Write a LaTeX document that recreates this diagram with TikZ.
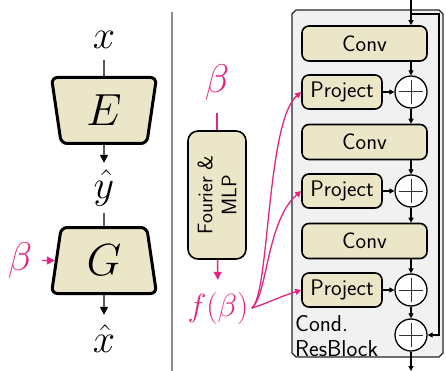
\RequirePackage{fix-cm}
\documentclass[tikz,border=0pt]{standalone}
\usetikzlibrary{arrows.meta,shapes.geometric}
\definecolor{beige}{RGB}{236,230,201}
\definecolor{pinkc}{RGB}{225,37,128}
\definecolor{panelgray}{RGB}{241,241,241}
\definecolor{sepgray}{RGB}{140,140,140}
\begin{document}
\begin{tikzpicture}[x=1pt,y=-1pt,
  mathlbl/.style={font=\fontsize{40}{48}\selectfont, inner sep=0pt},
  sanstxt/.style={font=\sffamily\fontsize{22.5}{25}\selectfont},
  trap/.style={trapezium, trapezium stretches body, draw, line width=3pt, fill=beige,
     rounded corners=6pt, minimum height=66pt, minimum width=105pt,
     trapezium angle=72.5, inner sep=0pt, font=\fontsize{45}{50}\selectfont},
  blk/.style={draw, line width=1.6pt, fill=beige, rounded corners=7pt, sanstxt, inner sep=0pt},
  convblk/.style={blk, minimum width=125pt, minimum height=35pt},
  projblk/.style={blk, minimum width=80pt, minimum height=34pt},
  plusnode/.style={circle, draw, line width=1.3pt, fill=white, minimum size=32pt, inner sep=0pt,
     path picture={\draw[line width=1pt, black!80]
        ([xshift=-12pt]path picture bounding box.center) -- ([xshift=12pt]path picture bounding box.center)
        ([yshift=-12pt]path picture bounding box.center) -- ([yshift=12pt]path picture bounding box.center);}},
  arr/.style={line width=1.4pt, -{Triangle[length=8pt,width=8pt]}},
  sarr/.style={line width=1.2pt, -{Triangle[length=5pt,width=5pt]}},
  parr/.style={line width=1.3pt, pinkc, -{Triangle[length=6pt,width=6pt]}},
]
\useasboundingbox (0,0) rectangle (446,371);
\fill[white] (0,0) rectangle (446,371);

% ---------- left: E / G ----------
\node[mathlbl, minimum height=40pt] (xl) at (104,40) {$x$};
\node[trap, shape border rotate=180] (E) at (104,110.5) {$E$};
\node[mathlbl, minimum height=50pt] (yl) at (104,188) {$\hat{y}$};
\node[trap] (G) at (104,260.5) {$G$};
\node[mathlbl, minimum height=48pt] (xh) at (104,339) {$\hat{x}$};
\node[mathlbl, minimum width=44pt, text=pinkc] (b1) at (20,260.5) {$\beta$};

\draw[line width=1.4pt] (xl) -- (E);
\draw[arr] (E) -- (yl);
\draw[line width=1.4pt] (yl) -- (G);
\draw[arr] (G) -- (xh);
\draw[arr, pinkc] (b1) -- (G);

% separator
\draw[sepgray, line width=1.5pt] (172,12) -- (172,371);

% ---------- middle: Fourier & MLP ----------
\node[mathlbl, minimum height=60pt, text=pinkc] (b2) at (217,83) {$\beta$};
\node[blk, rotate=90, minimum width=128pt, minimum height=58pt, align=center, rounded corners=10pt,
      font=\sffamily\fontsize{21}{24}\selectfont] (fm) at (217,195) {Fourier \&\\MLP};
\node[mathlbl, minimum height=56pt, inner xsep=3pt, text=pinkc, font=\fontsize{32}{38}\selectfont] (fb) at (218,308) {$f(\beta)$};
\draw[pinkc, line width=1.4pt] (b2) -- (fm);
\draw[arr, pinkc] (fm) -- (fb);

% ---------- right: Cond. ResBlock ----------
\draw[fill=panelgray, draw=black!85, line width=1.3pt]
  (292,14) -- (296,10) -- (439,10) -- (443,14) -- (443,353) -- (439,357) -- (296,357) -- (292,353) -- cycle;

\node[convblk] (c1) at (364.5,43.5) {Conv};
\node[projblk] (p1) at (342,92) {Project};
\node[plusnode] (pl1) at (411,92) {};
\node[convblk] (c2) at (364.5,142) {Conv};
\node[projblk] (p2) at (342,191) {Project};
\node[plusnode] (pl2) at (411,191) {};
\node[convblk] (c3) at (364.5,241) {Conv};
\node[projblk] (p3) at (342,290) {Project};
\node[plusnode] (pl3) at (411,290) {};
\node[plusnode] (pl4) at (411,335) {};
\node[sanstxt, anchor=north west, inner sep=0pt, align=left, font=\sffamily\fontsize{23}{25}\selectfont] (lbl) at (295,315) {Cond.\\ResBlock};

\coordinate (in) at (411,0);
\coordinate (sk) at (411,14);
\coordinate (out) at (411,371);

\draw[sarr] (in) -- (in |- c1.north);
\draw[sarr] (sk) -- ++(28,0) |- (pl4);
\draw[sarr] (c1.south -| pl1) -- (pl1);
\draw[sarr] (p1) -- (pl1);
\draw[sarr] (pl1) -- (pl1 |- c2.north);
\draw[sarr] (c2.south -| pl2) -- (pl2);
\draw[sarr] (p2) -- (pl2);
\draw[sarr] (pl2) -- (pl2 |- c3.north);
\draw[sarr] (c3.south -| pl3) -- (pl3);
\draw[sarr] (p3) -- (pl3);
\draw[sarr] (pl3) -- (pl4);
\draw[sarr] (pl4) -- (out);

% pink conditioning curves
\draw[parr] (fb.east) .. controls +(18,-12) and +(-35,30) .. (p1.west);
\draw[parr] (fb.east) .. controls +(16,-12) and +(-35,30) .. (p2.west);
\draw[parr] (fb.east) .. controls +(14,-4) and +(-25,8) .. (p3.west);
\end{tikzpicture}
\end{document}
